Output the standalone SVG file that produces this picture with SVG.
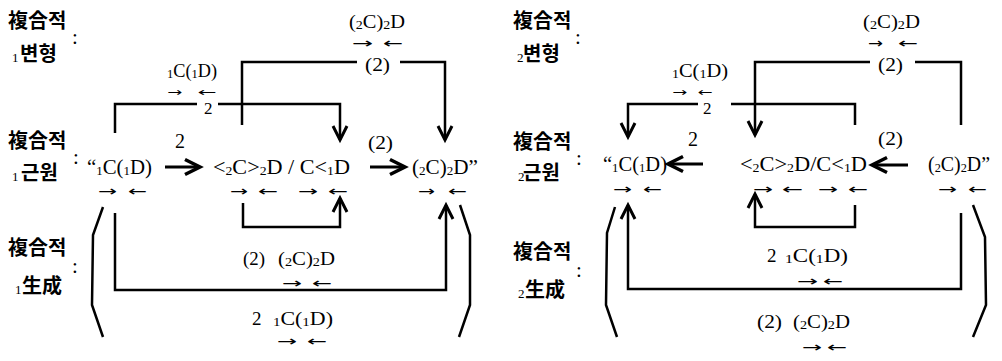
<svg xmlns="http://www.w3.org/2000/svg" width="1002" height="361" viewBox="0 0 1002 361">
<style>
.k{font-family:"Noto Sans CJK KR","Noto Sans CJK SC",sans-serif;font-size:20px;font-weight:700;fill:#000}
.m{font-family:"Liberation Serif",serif;font-size:21px;fill:#000}
.t{font-family:"Liberation Serif",serif;font-size:19px;fill:#000}
.sb{font-family:"Liberation Serif",serif;font-size:13px}
.a{font-family:"DejaVu Sans",sans-serif;font-size:14px;fill:#000}
.as{font-size:12px}
.ln{fill:none;stroke:#000;stroke-width:2.5}
.th{fill:none;stroke:#000;stroke-width:3}
</style>
<defs>
<marker id="v" markerUnits="userSpaceOnUse" orient="auto" markerWidth="24" markerHeight="24" viewBox="-18 -12 24 24" refX="0" refY="0" overflow="visible">
<path d="M-14,-7 L0,0 L-14,7" fill="none" stroke="#000" stroke-width="3"/>
</marker>
<marker id="big" markerUnits="userSpaceOnUse" orient="auto" markerWidth="24" markerHeight="24" viewBox="-18 -12 24 24" refX="0" refY="0" overflow="visible">
<path d="M-15,-7.5 L0,0 L-15,7.5" fill="none" stroke="#000" stroke-width="3.5"/>
</marker>
</defs>
<rect width="1002" height="361" fill="#fff"/>

<g id="connectors">
<!-- left panel -->
<path class="ln" d="M115,133 V104 H197"/>
<path class="ln" d="M218,104 H340 V140" marker-end="url(#v)"/>
<path class="ln" d="M242,125 V62 H357"/>
<path class="ln" d="M400,62 H445 V140" marker-end="url(#v)"/>
<path class="ln" d="M243,203 V227 H340 V198" marker-end="url(#v)"/>
<path class="ln" d="M115,213 V290 H446 V205" marker-end="url(#v)"/>
<path class="th" d="M165,167 H200" marker-end="url(#big)"/>
<path class="th" d="M370,167 H405" marker-end="url(#big)"/>
<path class="ln" d="M103,207 L93,235 L92,305 L103,337"/>
<path class="ln" d="M460,205 L470,235 L470,305 L459,337"/>
<!-- right panel -->
<path class="ln" d="M855,125 V104 H731"/>
<path class="ln" d="M698,104 H628 V137" marker-end="url(#v)"/>
<path class="ln" d="M961,125 V62 H915"/>
<path class="ln" d="M870,62 H755 V135" marker-end="url(#v)"/>
<path class="ln" d="M855,205 V227 H755 V194" marker-end="url(#v)"/>
<path class="ln" d="M961,213 V289 H628 V205" marker-end="url(#v)"/>
<path class="th" d="M703,164 H668" marker-end="url(#big)"/>
<path class="th" d="M908,165 H872" marker-end="url(#big)"/>
<path class="ln" d="M615,207 L607,233 L606,305 L617,337"/>
<path class="ln" d="M973,205 L985,237 L986,305 L973,337"/>
</g>

<!-- LEFT PANEL -->
<g id="label-1-transform">
<text class="k" x="8" y="28">複合적</text>
<text class="m" x="72" y="44">:</text>
<text x="12" y="62"><tspan class="sb">1</tspan><tspan class="k" x="20" y="61">변형</tspan></text>
</g>
<g id="label-1-root">
<text class="k" x="8" y="148">複合적</text>
<text class="m" x="73" y="164">:</text>
<text x="12" y="181"><tspan class="sb">1</tspan><tspan class="k" x="21" y="180">근원</tspan></text>
</g>
<g id="label-1-gen">
<text class="k" x="8" y="255">複合적</text>
<text class="m" x="72" y="273">:</text>
<text x="15" y="294"><tspan class="sb">1</tspan><tspan class="k" x="22" y="293">生成</tspan></text>
</g>

<g id="L-top-1C1D">
<text class="t" x="167" y="77" textLength="50" lengthAdjust="spacingAndGlyphs"><tspan class="sb" dy="1">1</tspan><tspan dy="-1">C(</tspan><tspan class="sb" dy="1">1</tspan><tspan dy="-1">D)</tspan></text>
<text class="a as" x="167" y="96" textLength="15" lengthAdjust="spacingAndGlyphs">→</text>
<text class="a as" x="198" y="96" textLength="19" lengthAdjust="spacingAndGlyphs">←</text>
<text class="t" x="204" y="114" style="font-size:17px">2</text>
</g>
<g id="L-top-2C2D">
<text class="t" x="349" y="28" textLength="56" lengthAdjust="spacingAndGlyphs">(<tspan class="sb" dy="1">2</tspan><tspan dy="-1">C)</tspan><tspan class="sb" dy="1">2</tspan><tspan dy="-1">D</tspan></text>
<text class="a" x="352" y="48" textLength="21" lengthAdjust="spacingAndGlyphs">→</text>
<text class="a" x="383" y="48" textLength="20" lengthAdjust="spacingAndGlyphs">←</text>
<text class="t" x="365" y="71" textLength="25" lengthAdjust="spacingAndGlyphs">(2)</text>
</g>
<g id="L-main-1">
<text class="m" x="87" y="174" textLength="65" lengthAdjust="spacingAndGlyphs">“<tspan class="sb" dy="1">1</tspan><tspan dy="-1">C(</tspan><tspan class="sb" dy="1">1</tspan><tspan dy="-1">D)</tspan></text>
<text class="a" x="98" y="196" textLength="19" lengthAdjust="spacingAndGlyphs">→</text>
<text class="a" x="128" y="196" textLength="19" lengthAdjust="spacingAndGlyphs">←</text>
</g>
<g id="L-edge-2"><text class="t" x="175" y="148" style="font-size:20px">2</text></g>
<g id="L-main-2">
<text class="m" x="213" y="174" textLength="137" lengthAdjust="spacingAndGlyphs">&lt;<tspan class="sb" dy="1">2</tspan><tspan dy="-1">C&gt;</tspan><tspan class="sb" dy="1">2</tspan><tspan dy="-1">D / C&lt;</tspan><tspan class="sb" dy="1">1</tspan><tspan dy="-1">D</tspan></text>
<text class="a" x="230" y="196" textLength="18" lengthAdjust="spacingAndGlyphs">→</text>
<text class="a" x="258" y="196" textLength="20" lengthAdjust="spacingAndGlyphs">←</text>
<text class="a" x="298" y="196" textLength="20" lengthAdjust="spacingAndGlyphs">→</text>
<text class="a" x="328" y="196" textLength="20" lengthAdjust="spacingAndGlyphs">←</text>
</g>
<g id="L-edge-p2"><text class="t" x="368" y="149" textLength="25" lengthAdjust="spacingAndGlyphs">(2)</text></g>
<g id="L-main-3">
<text class="m" x="412" y="174" textLength="66" lengthAdjust="spacingAndGlyphs">(<tspan class="sb" dy="1">2</tspan><tspan dy="-1">C)</tspan><tspan class="sb" dy="1">2</tspan><tspan dy="-1">D”</tspan></text>
<text class="a" x="418" y="196" textLength="17" lengthAdjust="spacingAndGlyphs">→</text>
<text class="a" x="448" y="196" textLength="19" lengthAdjust="spacingAndGlyphs">←</text>
</g>
<g id="L-bot-2C2D">
<text class="t" x="243" y="265" textLength="22" lengthAdjust="spacingAndGlyphs">(2)</text>
<text class="t" x="278" y="265" textLength="57" lengthAdjust="spacingAndGlyphs">(<tspan class="sb" dy="1">2</tspan><tspan dy="-1">C)</tspan><tspan class="sb" dy="1">2</tspan><tspan dy="-1">D</tspan></text>
<text class="a" x="282" y="288" textLength="20" lengthAdjust="spacingAndGlyphs">→</text>
<text class="a" x="312" y="288" textLength="20" lengthAdjust="spacingAndGlyphs">←</text>
</g>
<g id="L-bot-1C1D">
<text class="t" x="252" y="325">2</text>
<text class="t" x="273" y="325" textLength="60" lengthAdjust="spacingAndGlyphs"><tspan class="sb" dy="1">1</tspan><tspan dy="-1">C(</tspan><tspan class="sb" dy="1">1</tspan><tspan dy="-1">D)</tspan></text>
<text class="a" x="277" y="346" textLength="20" lengthAdjust="spacingAndGlyphs">→</text>
<text class="a" x="307" y="346" textLength="20" lengthAdjust="spacingAndGlyphs">←</text>
</g>

<!-- RIGHT PANEL -->
<g id="label-2-transform">
<text class="k" x="513" y="28">複合적</text>
<text class="m" x="575" y="44">:</text>
<text x="517" y="62"><tspan class="sb">2</tspan><tspan class="k" x="523" y="61">변형</tspan></text>
</g>
<g id="label-2-root">
<text class="k" x="513" y="149">複合적</text>
<text class="m" x="576" y="165">:</text>
<text x="518" y="181"><tspan class="sb">2</tspan><tspan class="k" x="523" y="180">근원</tspan></text>
</g>
<g id="label-2-gen">
<text class="k" x="513" y="259">複合적</text>
<text class="m" x="576" y="277">:</text>
<text x="518" y="298"><tspan class="sb">2</tspan><tspan class="k" x="525" y="297">生成</tspan></text>
</g>

<g id="R-top-1C1D">
<text class="t" x="672" y="77" textLength="56" lengthAdjust="spacingAndGlyphs"><tspan class="sb" dy="1">1</tspan><tspan dy="-1">C(</tspan><tspan class="sb" dy="1">1</tspan><tspan dy="-1">D)</tspan></text>
<text class="a as" x="672" y="96" textLength="15" lengthAdjust="spacingAndGlyphs">→</text>
<text class="a as" x="698" y="96" textLength="15" lengthAdjust="spacingAndGlyphs">←</text>
<text class="t" x="703" y="114" style="font-size:17px">2</text>
</g>
<g id="R-top-2C2D">
<text class="t" x="863" y="28" textLength="57" lengthAdjust="spacingAndGlyphs">(<tspan class="sb" dy="1">2</tspan><tspan dy="-1">C)</tspan><tspan class="sb" dy="1">2</tspan><tspan dy="-1">D</tspan></text>
<text class="a" x="868" y="48" textLength="15" lengthAdjust="spacingAndGlyphs">→</text>
<text class="a" x="898" y="48" textLength="20" lengthAdjust="spacingAndGlyphs">←</text>
<text class="t" x="878" y="71" textLength="25" lengthAdjust="spacingAndGlyphs">(2)</text>
</g>
<g id="R-main-1">
<text class="m" x="603" y="171" textLength="64" lengthAdjust="spacingAndGlyphs">“<tspan class="sb" dy="1">1</tspan><tspan dy="-1">C(</tspan><tspan class="sb" dy="1">1</tspan><tspan dy="-1">D)</tspan></text>
<text class="a" x="613" y="194" textLength="19" lengthAdjust="spacingAndGlyphs">→</text>
<text class="a" x="643" y="194" textLength="19" lengthAdjust="spacingAndGlyphs">←</text>
</g>
<g id="R-edge-2"><text class="t" x="688" y="146" style="font-size:20px">2</text></g>
<g id="R-main-2">
<text class="m" x="740" y="171" textLength="127" lengthAdjust="spacingAndGlyphs">&lt;<tspan class="sb" dy="1">2</tspan><tspan dy="-1">C&gt;</tspan><tspan class="sb" dy="1">2</tspan><tspan dy="-1">D/C&lt;</tspan><tspan class="sb" dy="1">1</tspan><tspan dy="-1">D</tspan></text>
<text class="a" x="753" y="194" textLength="20" lengthAdjust="spacingAndGlyphs">→</text>
<text class="a" x="782" y="194" textLength="21" lengthAdjust="spacingAndGlyphs">←</text>
<text class="a" x="818" y="194" textLength="20" lengthAdjust="spacingAndGlyphs">→</text>
<text class="a" x="848" y="194" textLength="20" lengthAdjust="spacingAndGlyphs">←</text>
</g>
<g id="R-edge-p2"><text class="t" x="878" y="145" textLength="25" lengthAdjust="spacingAndGlyphs">(2)</text></g>
<g id="R-main-3">
<text class="m" x="928" y="171" textLength="62" lengthAdjust="spacingAndGlyphs">(<tspan class="sb" dy="1">2</tspan><tspan dy="-1">C)</tspan><tspan class="sb" dy="1">2</tspan><tspan dy="-1">D”</tspan></text>
<text class="a" x="938" y="194" textLength="19" lengthAdjust="spacingAndGlyphs">→</text>
<text class="a" x="968" y="194" textLength="19" lengthAdjust="spacingAndGlyphs">←</text>
</g>
<g id="R-bot-1C1D">
<text class="t" x="767" y="262">2</text>
<text class="t" x="785" y="262" textLength="63" lengthAdjust="spacingAndGlyphs"><tspan class="sb" dy="1">1</tspan><tspan dy="-1">C(</tspan><tspan class="sb" dy="1">1</tspan><tspan dy="-1">D)</tspan></text>
<text class="a" x="797" y="286" textLength="21" lengthAdjust="spacingAndGlyphs">→</text>
<text class="a" x="823" y="286" textLength="20" lengthAdjust="spacingAndGlyphs">←</text>
</g>
<g id="R-bot-2C2D">
<text class="t" x="757" y="328" textLength="25" lengthAdjust="spacingAndGlyphs">(2)</text>
<text class="t" x="793" y="328" textLength="57" lengthAdjust="spacingAndGlyphs">(<tspan class="sb" dy="1">2</tspan><tspan dy="-1">C)</tspan><tspan class="sb" dy="1">2</tspan><tspan dy="-1">D</tspan></text>
<text class="a" x="802" y="352" textLength="20" lengthAdjust="spacingAndGlyphs">→</text>
<text class="a" x="827" y="352" textLength="20" lengthAdjust="spacingAndGlyphs">←</text>
</g>
</svg>
